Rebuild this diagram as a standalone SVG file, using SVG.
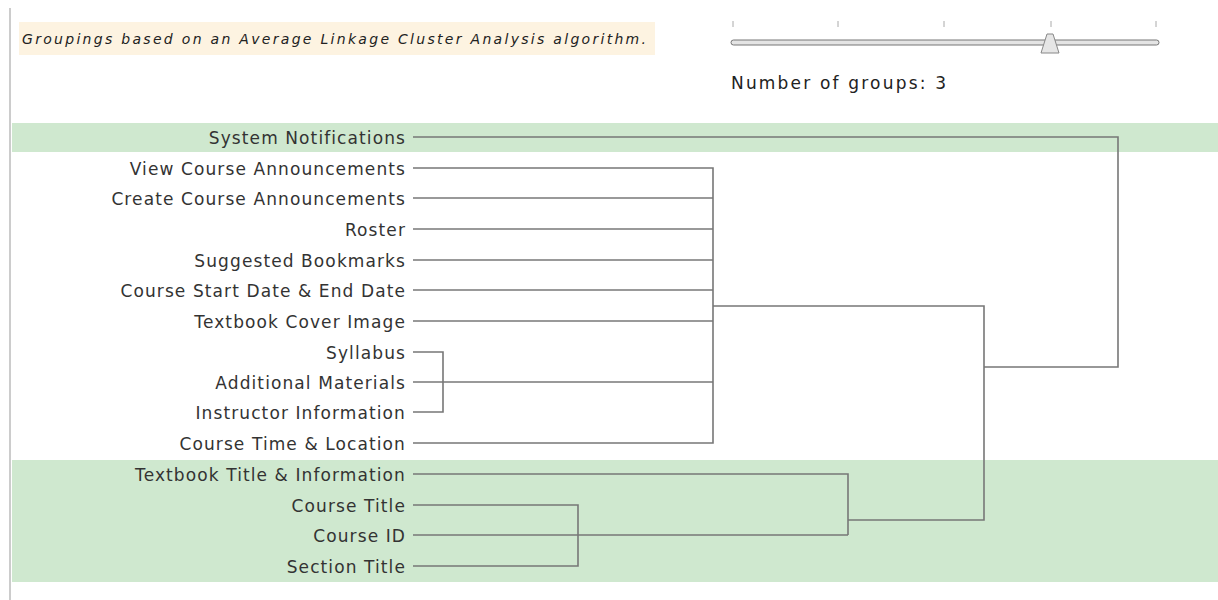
<svg xmlns="http://www.w3.org/2000/svg" width="1218" height="600" viewBox="0 0 1218 600">
<style>
.lbl{font-family:"DejaVu Sans","Liberation Sans",sans-serif;font-size:17px;letter-spacing:1.1px;fill:#333;text-anchor:end}
.ln{stroke:#777;stroke-width:1.6;fill:none}
.band{fill:#cfe8cf}
.tick{stroke:#aaa;stroke-width:1}
</style>
<rect x="0" y="0" width="1218" height="600" fill="#fff"/>
<line x1="10" y1="8" x2="10" y2="600" stroke="#ccc" stroke-width="2"/>
<g id="caption">
<rect x="19" y="22" width="636" height="33" fill="#fdf3e1"/>
<text x="22" y="44" font-family="DejaVu Sans, sans-serif" font-style="italic" font-size="14" fill="#222" textLength="624" lengthAdjust="spacing">Groupings based on an Average Linkage Cluster Analysis algorithm.</text>
</g>
<g id="slider">
<line class="tick" x1="733" y1="21" x2="733" y2="27"/>
<line class="tick" x1="838" y1="21" x2="838" y2="27"/>
<line class="tick" x1="944" y1="21" x2="944" y2="27"/>
<line class="tick" x1="1051" y1="21" x2="1051" y2="27"/>
<line class="tick" x1="1156" y1="21" x2="1156" y2="27"/>
<rect x="731" y="40" width="428" height="5" rx="2.5" fill="#e4e4e4" stroke="#777" stroke-width="1"/>
<path d="M1047 34 L1053 34 L1059 53 L1041 53 Z" fill="#e6e6e6" stroke="#888" stroke-width="1" stroke-linejoin="round"/>
<text x="731" y="89" font-family="DejaVu Sans, sans-serif" font-size="17" fill="#222" textLength="215" lengthAdjust="spacing">Number of groups: 3</text>
</g>
<g id="bands">
<rect class="band" x="12" y="123" width="1206" height="29"/>
<rect class="band" x="12" y="460" width="1206" height="122"/>
</g>
<g id="labels">
<g id="n1"><text class="lbl" x="406" y="144">System Notifications</text></g>
<g id="n2"><text class="lbl" x="406" y="175">View Course Announcements</text></g>
<g id="n3"><text class="lbl" x="406" y="205">Create Course Announcements</text></g>
<g id="n4"><text class="lbl" x="406" y="236">Roster</text></g>
<g id="n5"><text class="lbl" x="406" y="267">Suggested Bookmarks</text></g>
<g id="n6"><text class="lbl" x="406" y="297">Course Start Date &amp; End Date</text></g>
<g id="n7"><text class="lbl" x="406" y="328">Textbook Cover Image</text></g>
<g id="n8"><text class="lbl" x="406" y="359">Syllabus</text></g>
<g id="n9"><text class="lbl" x="406" y="389">Additional Materials</text></g>
<g id="n10"><text class="lbl" x="406" y="419">Instructor Information</text></g>
<g id="n11"><text class="lbl" x="406" y="450">Course Time &amp; Location</text></g>
<g id="n12"><text class="lbl" x="406" y="481">Textbook Title &amp; Information</text></g>
<g id="n13"><text class="lbl" x="406" y="512">Course Title</text></g>
<g id="n14"><text class="lbl" x="406" y="542">Course ID</text></g>
<g id="n15"><text class="lbl" x="406" y="573">Section Title</text></g>
</g>
<g id="connectors">
<path class="ln" d="M413 137 H1118 V367 H984"/>
<path class="ln" d="M413 168 H713 V443 H413"/>
<path class="ln" d="M413 198 H713"/>
<path class="ln" d="M413 229 H713"/>
<path class="ln" d="M413 260 H713"/>
<path class="ln" d="M413 290 H713"/>
<path class="ln" d="M413 321 H713"/>
<path class="ln" d="M713 306 H984 V520 H848"/>
<path class="ln" d="M413 352 H443 V412 H413"/>
<path class="ln" d="M413 382 H713"/>
<path class="ln" d="M413 474 H848 V535"/>
<path class="ln" d="M413 505 H578 V566 H413"/>
<path class="ln" d="M413 535 H848"/>
</g>
</svg>
